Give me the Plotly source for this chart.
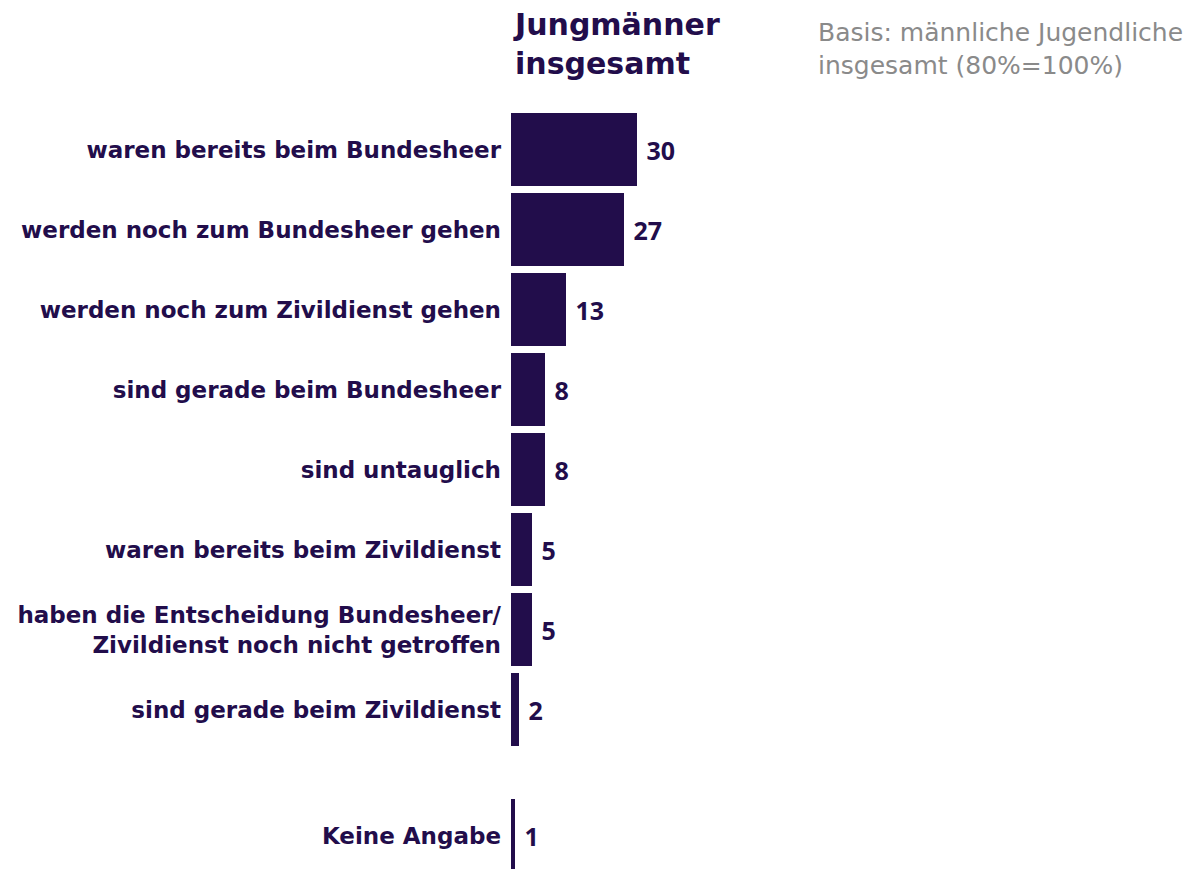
import plotly.graph_objects as go

categories = [
    "waren bereits beim Bundesheer",
    "werden noch zum Bundesheer gehen",
    "werden noch zum Zivildienst gehen",
    "sind gerade beim Bundesheer",
    "sind untauglich",
    "waren bereits beim Zivildienst",
    "haben die Entscheidung Bundesheer/<br>Zivildienst noch nicht getroffen",
    "sind gerade beim Zivildienst",
    "Keine Angabe",
]
values = [30, 27, 13, 8, 8, 5, 5, 2, 1]
positions = [0, 1, 2, 3, 4, 5, 6, 7, 8.575]

title_text = "Jungmänner<br>insgesamt"
note_text = "Basis: männliche Jugendliche<br>insgesamt (80%=100%)"

DARK = "#220d4b"
GRAY = "#8a8a8a"

fig = go.Figure()
fig.add_trace(go.Bar(
    x=values,
    y=positions,
    orientation="h",
    width=0.9125,
    marker=dict(color=DARK, line=dict(width=0)),
    text=values,
    texttemplate="\u00a0%{x}",
    textposition="outside",
    cliponaxis=False,
    textfont=dict(family="Open Sans", size=25, color=DARK, weight="bold"),
    hoverinfo="skip",
))

fig.update_layout(
    width=1200,
    height=869,
    margin=dict(l=511, r=0, t=0, b=0),
    paper_bgcolor="white",
    plot_bgcolor="white",
    showlegend=False,
    bargap=0,
    xaxis=dict(range=[0, 164], visible=False, fixedrange=True),
    yaxis=dict(
        range=[8.99, -1.8725],
        tickmode="array",
        tickvals=positions,
        ticktext=categories,
        showgrid=False,
        zeroline=False,
        showline=False,
        ticks="",
        ticklabelstandoff=9,
        tickfont=dict(family="DejaVu Sans", size=23, color=DARK, weight="bold"),
        fixedrange=True,
    ),
    annotations=[
        dict(
            text=title_text, xref="paper", yref="paper", x=0, y=1 - 5 / 869,
            xanchor="left", yanchor="top", align="left", showarrow=False,
            font=dict(family="DejaVu Sans", size=30, color=DARK, weight="bold"),
        ),
        dict(
            text=note_text, xref="paper", yref="paper", x=(816 - 511) / 689, y=1 - 16 / 869,
            xanchor="left", yanchor="top", align="left", showarrow=False,
            font=dict(family="DejaVu Sans", size=25, color=GRAY),
        ),
    ],
)

fig.write_html(
    "out.html",
    config={"displayModeBar": False},
    post_script="document.body.style.margin='0';document.body.style.overflow='hidden';",
)
